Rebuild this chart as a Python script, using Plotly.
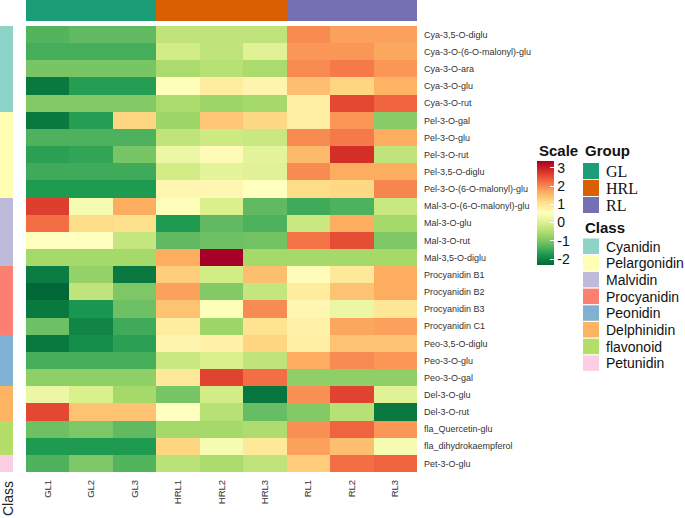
import plotly.graph_objects as go

W, H = 685, 518

samples = ["GL1", "GL2", "GL3", "HRL1", "HRL2", "HRL3", "RL1", "RL2", "RL3"]
sample_group = ["GL", "GL", "GL", "HRL", "HRL", "HRL", "RL", "RL", "RL"]
groups = ["GL", "HRL", "RL"]
group_colors = ["#1b9e77", "#d95f02", "#7570b3"]

compounds = [
    "Cya-3,5-O-diglu", "Cya-3-O-(6-O-malonyl)-glu", "Cya-3-O-ara", "Cya-3-O-glu", "Cya-3-O-rut",
    "Pel-3-O-gal", "Pel-3-O-glu", "Pel-3-O-rut", "Pel-3,5-O-diglu", "Pel-3-O-(6-O-malonyl)-glu",
    "Mal-3-O-(6-O-malonyl)-glu", "Mal-3-O-glu", "Mal-3-O-rut", "Mal-3,5-O-diglu",
    "Procyanidin B1", "Procyanidin B2", "Procyanidin B3", "Procyanidin C1",
    "Peo-3,5-O-diglu", "Peo-3-O-glu", "Peo-3-O-gal",
    "Del-3-O-glu", "Del-3-O-rut",
    "fla_Quercetin-glu", "fla_dihydrokaempferol",
    "Pet-3-O-glu",
]
compound_class = (["Cyanidin"] * 5 + ["Pelargonidin"] * 5 + ["Malvidin"] * 4 +
                  ["Procyanidin"] * 4 + ["Peonidin"] * 3 + ["Delphinidin"] * 2 +
                  ["flavonoid"] * 2 + ["Petunidin"])
classes = ["Cyanidin", "Pelargonidin", "Malvidin", "Procyanidin", "Peonidin",
           "Delphinidin", "flavonoid", "Petunidin"]
class_colors = ["#8dd3c7", "#ffffb3", "#bebada", "#fb8072", "#80b1d3",
                "#fdb462", "#b3de69", "#fccde5"]

scaled = [
    [-1.3, -1.2, -1.2, -0.3, -0.3, -0.3, 2.0, 1.8, 1.8],
    [-1.4, -1.4, -1.4, -0.1, -0.3, 0.1, 1.9, 1.9, 1.75],
    [-1.0, -1.0, -1.0, -0.55, -0.4, -0.55, 2.0, 2.15, 1.9],
    [-2.1, -1.65, -1.65, 0.5, 0.9, 0.75, 1.5, 1.25, 1.65],
    [-0.9, -0.9, -0.9, -0.55, -0.65, -0.6, 0.85, 2.6, 2.35],
    [-2.1, -1.65, 1.25, -0.65, 1.4, 1.2, 0.85, 1.9, -0.85],
    [-1.35, -1.35, -1.35, -0.3, -0.15, -0.2, 2.0, 2.15, 1.7],
    [-1.6, -1.55, -1.0, 0.25, 0.65, 0.15, 1.55, 2.85, -0.3],
    [-1.45, -1.45, -1.45, -0.1, 0.15, 0.1, 2.0, 1.7, 1.7],
    [-1.7, -1.7, -1.7, 0.7, 0.7, 0.55, 1.15, 1.2, 2.05],
    [2.7, 0.4, 1.7, 0.5, 0.0, -1.2, -1.45, -1.35, -0.2],
    [2.25, 1.15, 1.1, -1.7, -1.2, -1.35, -0.2, 1.7, -0.6],
    [0.55, 0.55, -0.25, -1.2, -1.1, -1.05, 2.2, 2.55, -0.95],
    [-0.6, -0.6, -0.6, 1.7, 3.4, -0.6, -0.6, -0.6, -0.6],
    [-2.05, -0.75, -2.1, 1.35, -0.1, 1.5, 0.6, 0.95, 1.7],
    [-2.3, -0.3, -0.95, 1.8, -0.9, -0.25, 0.9, 1.45, 1.7],
    [-2.1, -1.75, -1.1, 1.45, 0.5, 2.0, 0.7, 0.25, 1.0],
    [-1.1, -1.95, -1.45, 0.9, -0.65, 1.05, 0.8, 1.75, 1.8],
    [-2.1, -1.85, -1.6, 0.75, 0.8, 1.25, 0.85, 1.45, 1.45],
    [-1.4, -1.4, -1.4, -0.2, 0.0, -0.3, 1.7, 2.0, 1.9],
    [-0.8, -0.8, -0.8, 0.95, 2.65, 2.25, -0.8, -0.8, -0.8],
    [0.25, 0.0, -0.6, -1.0, -0.1, -2.15, 1.95, 2.65, 0.1],
    [2.6, 1.45, 1.45, 0.55, -0.4, -1.15, -0.9, -0.4, -2.1],
    [-1.1, -0.95, -1.2, -0.6, -0.6, -0.5, 1.95, 2.35, 1.9],
    [-1.7, -1.7, -1.7, 1.25, 0.4, 0.95, 1.8, 1.5, 0.4],
    [-1.35, -0.95, -1.3, -0.35, -0.55, -0.3, 1.35, 2.25, 2.35],
]
scale_ticks = [-2, -1, 0, 1, 2, 3]
scale_ticktext = ["-2", "-1", "0", "1", "2", "3"]
ZMIN, ZMAX = -2.3, 3.4


def px_x(v):
    return v / W


def px_y(v):
    return 1 - v / H


def discrete_scale(colors):
    n = len(colors)
    cs = []
    for i, c in enumerate(colors):
        cs.append([i / n, c])
        cs.append([(i + 1) / n, c])
    return cs


fig = go.Figure()

font_sans = "Liberation Sans, Arial, sans-serif"

# main heatmap
fig.add_trace(go.Heatmap(
    z=scaled, x=samples, y=compounds,
    colorscale="RdYlGn", reversescale=True, zmin=ZMIN, zmax=ZMAX,
    xaxis="x", yaxis="y", hoverinfo="x+y+z",
    colorbar=dict(
        x=px_x(537), xanchor="left", y=px_y(212.5), yanchor="middle",
        lenmode="pixels", len=104, thickness=17, ypad=0, xpad=0,
        outlinewidth=0, tickvals=scale_ticks, ticktext=scale_ticktext,
        ticks="inside", ticklen=4, tickcolor="white",
        tickfont=dict(family=font_sans, size=14, color="#111"),
    ),
))

# group annotation bar
fig.add_trace(go.Heatmap(
    z=[[groups.index(g) for g in sample_group]], x=samples, y=["Group"],
    colorscale=discrete_scale(group_colors), zmin=-0.5, zmax=len(groups) - 0.5,
    showscale=False, xaxis="x", yaxis="y2", hoverinfo="x",
))

# class annotation column
fig.add_trace(go.Heatmap(
    z=[[classes.index(c)] for c in compound_class], x=["Class"], y=compounds,
    colorscale=discrete_scale(class_colors), zmin=-0.5, zmax=len(classes) - 0.5,
    showscale=False, xaxis="x2", yaxis="y", hoverinfo="y",
))

fig.update_layout(
    width=W, height=H, margin=dict(l=0, r=0, t=0, b=0, autoexpand=False),
    paper_bgcolor="white", plot_bgcolor="white",
    xaxis=dict(domain=[px_x(26), px_x(417)], anchor="y", showgrid=False, zeroline=False,
               tickangle=-90, ticks="", tickfont=dict(family=font_sans, size=9.5, color="#333"),
               ticklabelstandoff=5, automargin=False),
    yaxis=dict(domain=[px_y(472), px_y(26)], anchor="x", autorange="reversed", side="right",
               showgrid=False, zeroline=False, ticks="", automargin=False,
               tickfont=dict(family=font_sans, size=9, color="#333"), ticklabelstandoff=6),
    yaxis2=dict(domain=[px_y(21), 1], anchor="x", showticklabels=False, showgrid=False,
                zeroline=False, automargin=False),
    xaxis2=dict(domain=[0, px_x(13)], anchor="y", showgrid=False, zeroline=False,
                showticklabels=False, automargin=False),
    showlegend=False,
)

shapes = []
annotations = []

# "Class" label under the class annotation column
annotations.append(dict(text="Class", x=px_x(8), y=px_y(499), xref="paper", yref="paper",
                        xanchor="center", yanchor="middle", textangle=-90, showarrow=False,
                        font=dict(family=font_sans, size=14, color="#222")))

# titles
for text, x, y in [("Scale", 537, 150), ("Group", 583, 150), ("Class", 583, 227)]:
    annotations.append(dict(text="<b>%s</b>" % text, x=px_x(x), y=px_y(y), xref="paper", yref="paper",
                            xanchor="left", yanchor="middle", showarrow=False,
                            font=dict(family=font_sans, size=15, color="#111")))

# group legend
for i, (g, c) in enumerate(zip(groups, group_colors)):
    top = 163 + i * 17
    shapes.append(dict(type="rect", xref="paper", yref="paper", x0=px_x(583), x1=px_x(599),
                       y0=px_y(top), y1=px_y(top + 16), fillcolor=c, line=dict(width=0)))
    annotations.append(dict(text=g, x=px_x(604), y=px_y(top + 8.5), xref="paper", yref="paper",
                            xanchor="left", yanchor="middle", showarrow=False,
                            font=dict(family="Liberation Serif, Times New Roman, serif", size=16, color="#111")))

# class legend
for i, (cl, c) in enumerate(zip(classes, class_colors)):
    top = 238.5 + i * 16.7
    shapes.append(dict(type="rect", xref="paper", yref="paper", x0=px_x(583), x1=px_x(599),
                       y0=px_y(top), y1=px_y(top + 15.5), fillcolor=c, line=dict(width=0)))
    annotations.append(dict(text=cl, x=px_x(604), y=px_y(top + 8), xref="paper", yref="paper",
                            xanchor="left", yanchor="middle", showarrow=False,
                            font=dict(family=font_sans, size=14, color="#111")))

fig.update_layout(shapes=shapes, annotations=annotations)

fig.write_html("out.html", config={"displayModeBar": False},
               post_script="document.body.style.margin='0';document.body.style.overflow='hidden';")
